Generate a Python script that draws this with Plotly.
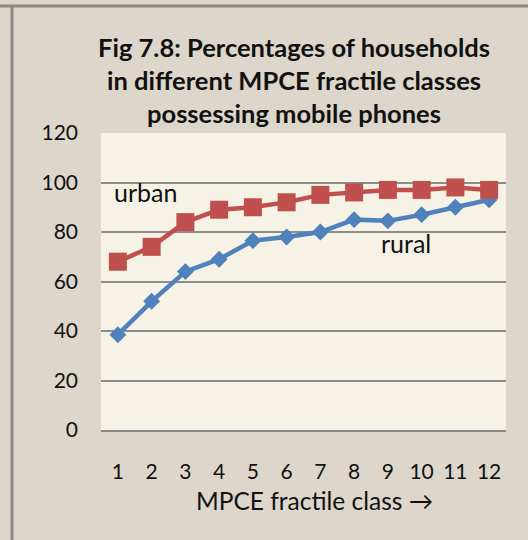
import plotly.graph_objects as go

classes = [1, 2, 3, 4, 5, 6, 7, 8, 9, 10, 11, 12]
urban = [68, 74, 84, 89, 90, 92, 95, 96, 97, 97, 98, 97]
rural = [38.5, 52, 64, 69, 76.5, 78, 80, 85, 84.5, 87, 90, 93]
y_ticks = [0, 20, 40, 60, 80, 100, 120]

W, H = 528, 540
L, R, T, B = 101, 22, 133, 110
pw, ph = W - L - R, H - T - B

def px(x):
    return (x - L) / pw

def py(y):
    return (H - B - y) / ph

FONT = "Lato"
fig = go.Figure()
fig.add_trace(go.Scatter(x=classes, y=rural, mode="lines+markers", name="rural",
                         line=dict(color="#4F81BD", width=4.5),
                         marker=dict(symbol="diamond", size=13, color="#4F81BD")))
fig.add_trace(go.Scatter(x=classes, y=urban, mode="lines+markers", name="urban",
                         line=dict(color="#C0504D", width=4.5),
                         marker=dict(symbol="square", size=18, color="#C0504D")))

title_lines = ["Fig 7.8: Percentages of households",
               "in different MPCE fractile classes",
               "possessing mobile phones"]
title_y = [47, 80, 113]
ann = []
for t, yy in zip(title_lines, title_y):
    ann.append(dict(text="<b>" + t + "</b>", xref="paper", yref="paper",
                    x=px(294), y=py(yy), xanchor="center", yanchor="middle",
                    showarrow=False, font=dict(family=FONT, size=25.5, color="#111111")))
ann.append(dict(text="urban", x=1.82, y=96, xref="x", yref="y", showarrow=False,
                xanchor="center", yanchor="middle", font=dict(family=FONT, size=25, color="#111111")))
ann.append(dict(text="rural", x=9.55, y=75.4, xref="x", yref="y", showarrow=False,
                xanchor="center", yanchor="middle", font=dict(family=FONT, size=25, color="#111111")))
ann.append(dict(text="MPCE fractile class \u2192", xref="paper", yref="paper",
                x=px(314), y=py(500), xanchor="center", yanchor="middle",
                showarrow=False, font=dict(family=FONT, size=24.5, color="#111111")))

shapes = [
    dict(type="line", xref="paper", yref="paper", x0=px(0), x1=px(W), y0=py(6), y1=py(6),
         line=dict(color="#8A8A8A", width=3)),
    dict(type="line", xref="paper", yref="paper", x0=px(12), x1=px(12), y0=py(6), y1=py(H),
         line=dict(color="#8A8A8A", width=3)),
]

fig.update_layout(
    width=W, height=H,
    margin=dict(l=L, r=R, t=T, b=B, pad=0),
    paper_bgcolor="#DDD6CA", plot_bgcolor="#F6F2E5",
    showlegend=False,
    annotations=ann, shapes=shapes,
    font=dict(family=FONT, size=21, color="#111111"),
)
fig.update_xaxes(range=[0.5, 12.5], tickvals=classes, ticktext=[str(c) for c in classes],
                 showgrid=False, showline=True, linecolor="#878787", linewidth=2,
                 ticks="", ticklabelstandoff=22, zeroline=False,
                 tickfont=dict(family=FONT, size=21, color="#111111"))
fig.update_yaxes(range=[0, 120], tickvals=y_ticks, showgrid=True, gridcolor="#8C8C8C",
                 gridwidth=1.5, zeroline=False, showline=False, ticks="",
                 ticklabelstandoff=22, tickfont=dict(family=FONT, size=21, color="#111111"))

fig.write_html("out.html", config={"displayModeBar": False},
               post_script="document.body.style.margin='0';document.body.style.overflow='hidden';")
